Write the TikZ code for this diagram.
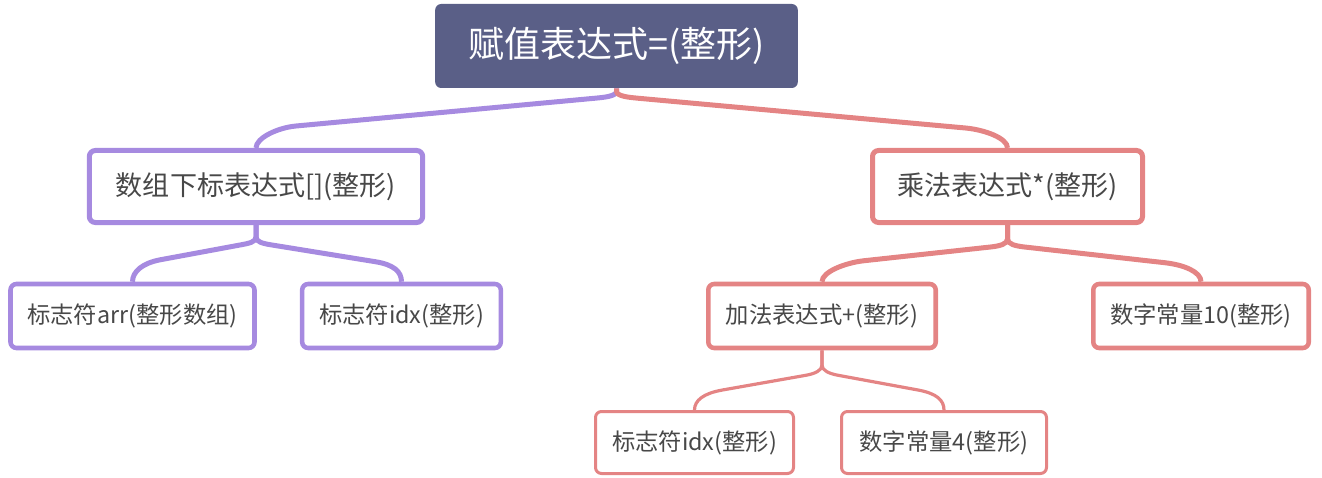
\documentclass[tikz,border=0pt]{standalone}
\usepackage{fontspec}
\usepackage{xcolor}
\usepackage{tikz}
\usetikzlibrary{calc}
\newfontfamily\cjk{Noto Sans CJK SC}
\definecolor{rootslate}{RGB}{90, 95, 135}
\definecolor{lavender}{RGB}{166, 138, 224}
\definecolor{salmonred}{RGB}{228, 132, 132}
\definecolor{textgray}{RGB}{72, 72, 72}

\tikzset{
  box/.style={rectangle,rounded corners=4.5pt,inner sep=0pt,align=center,fill=white,text=textgray},
  rootbox/.style={box,fill=rootslate,text=white,font=\cjk\fontsize{27}{31}\selectfont,minimum width=272pt,minimum height=63pt},
  midbox/.style={box,line width=3.75pt,font=\cjk\fontsize{20.3}{24}\selectfont,minimum height=54pt},
  leafbox/.style={box,line width=3.4pt,font=\cjk\fontsize{17.5}{21}\selectfont,minimum height=48pt},
  lowbox/.style={box,line width=2.25pt,font=\cjk\fontsize{17.5}{21}\selectfont,minimum height=46.5pt}
}

\begin{document}
\begin{tikzpicture}[x=0.75pt,y=-0.75pt]
    \useasboundingbox (0,0) rectangle (1322,478);

    % Root
    \node[rootbox] (root) at (616.5,46) {赋值表达式=(整形)};

    % Second level
    \node[midbox,draw=lavender,minimum width=250pt] (sub) at (256,186.5) {数组下标表达式[](整形)};
    \node[midbox,draw=salmonred,minimum width=202.5pt] (mul) at (1007.5,186.5) {乘法表达式*(整形)};

    % Third level
    \node[leafbox,draw=lavender,minimum width=183pt] (ida) at (132.5,316) {标志符arr(整形数组)};
    \node[leafbox,draw=lavender,minimum width=149pt] (idb) at (401.5,316) {标志符idx(整形)};
    \node[leafbox,draw=salmonred,minimum width=170.6pt] (add) at (822,316) {加法表达式+(整形)};
    \node[leafbox,draw=salmonred,minimum width=161.6pt] (num) at (1201,316) {数字常量10(整形)};

    % Fourth level
    \node[lowbox,draw=salmonred,minimum width=148.5pt] (idc) at (694.5,442.5) {标志符idx(整形)};
    \node[lowbox,draw=salmonred,minimum width=153.75pt] (four) at (944,442.5) {数字常量4(整形)};

    % Branches: parent/child/side/trunk/split offset/bend offset/colour/width
    \foreach \p/\c/\s/\t/\dxa/\dya/\dxb/\dyb/\col/\w in {
        root/sub/-1/3/22/10/40/22/lavender/3.75pt,
        root/mul/1/3/22/10/42/20/salmonred/3.75pt,
        sub/ida/-1/12/16/20/28/22/lavender/3.75pt,
        sub/idb/1/12/16/20/26/20/lavender/3.75pt,
        mul/add/-1/14/17/22/42/21/salmonred/3.75pt,
        mul/num/1/14/17/22/36/19/salmonred/3.75pt,
        add/idc/-1/15/16/25/28/20/salmonred/2.4pt,
        add/four/1/15/16/25/26/20/salmonred/2.4pt}
    {
        \coordinate (B) at ($(\p.south)+(0,\t)$);
        \coordinate (C) at ($(\p.south)+(\s*\dxa,\dya)$);
        \coordinate (D) at ($(\c.north)-(\s*\dxb,\dyb)$);
        \draw[\col,line width=\w] (\p.south) -- (B)
            .. controls ($(B)+(0,5)$) and ($(C)!-7pt!(D)$) .. (C) -- (D)
            .. controls ($(D)!-14pt!(C)$) and ($(\c.north)+(0,-10)$) .. (\c.north);
    }
\end{tikzpicture}
\end{document}
